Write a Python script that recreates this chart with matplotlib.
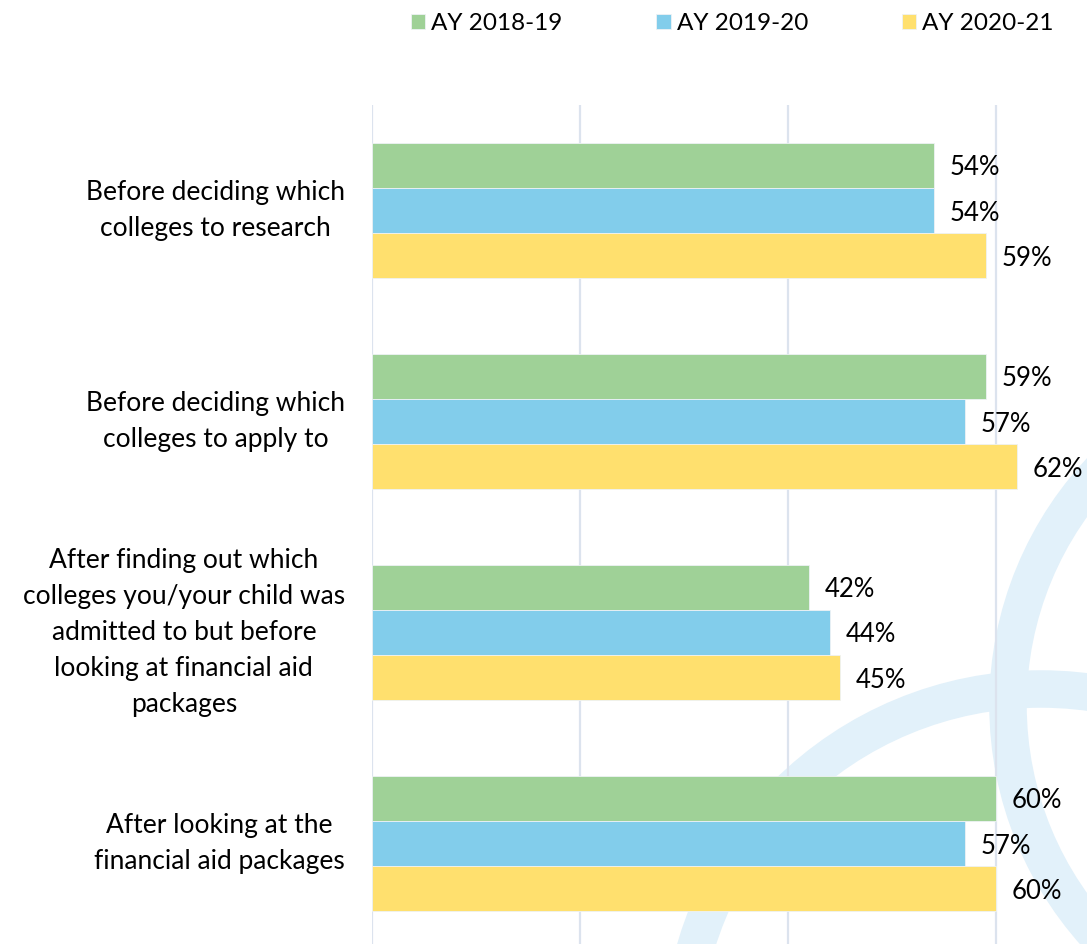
import matplotlib
matplotlib.use("Agg")
import matplotlib.pyplot as plt
from matplotlib.patches import Circle
import numpy as np

plt.rcParams['font.family'] = ['Lato', 'DejaVu Sans']

categories = [
    "Before deciding which\ncolleges to research",
    "Before deciding which\ncolleges to apply to",
    "After finding out which\ncolleges you/your child was\nadmitted to but before\nlooking at financial aid\npackages",
    "After looking at the\nfinancial aid packages",
]
series_names = ["AY 2018-19", "AY 2019-20", "AY 2020-21"]
ay_2018_19 = [54, 59, 42, 60]
ay_2019_20 = [54, 57, 44, 57]
ay_2020_21 = [59, 62, 45, 60]
colors = ["#9FD197", "#82CDEB", "#FFE06E"]

W, H = 1087, 944
fig = plt.figure(figsize=(W / 100, H / 100), dpi=100)

# watermark (decorative background arcs)
bg = fig.add_axes([0, 0, 1, 1], zorder=0)
bg.set_xlim(0, W)
bg.set_ylim(H, 0)
bg.axis('off')
wm = "#E2F1FA"
bg.add_patch(Circle((1041, 1049), 360, fill=False, lw=27, edgecolor=wm))
bg.add_patch(Circle((1350, 705), 342, fill=False, lw=27, edgecolor=wm))

ax = fig.add_axes([372 / W, -5 / H, (W - 372) / W, 844 / H], zorder=1)
ax.patch.set_alpha(0)

h = 0.2133
y = np.arange(len(categories))
data = [ay_2018_19, ay_2019_20, ay_2020_21]
containers = []
for k, (vals, c, name) in enumerate(zip(data, colors, series_names)):
    bc = ax.barh(y + (k - 1) * h, vals, height=h, color=c, label=name,
                 edgecolor="#EEF2F4", linewidth=0.6, zorder=3)
    containers.append(bc)
    texts = ax.bar_label(bc, labels=[f"{v}%" for v in vals], padding=11.5,
                         fontsize=18.5, color="black")
    for t in texts:
        t.set_va('center_baseline')

ax.set_xlim(0, 68.75)
ax.set_ylim(3.5, -0.5)
ax.set_xticks([0, 20, 40, 60])
ax.set_xticklabels([])
ax.tick_params(axis='x', length=0)
ax.grid(axis='x', color="#DCE3EE", linewidth=1.6, zorder=0)
ax.set_axisbelow(True)
for s in ax.spines.values():
    s.set_visible(False)

ax.set_yticks(y)
ax.set_yticklabels(categories, fontsize=19, ha='right', ma='center',
                   va='center', linespacing=1.56)
ax.tick_params(axis='y', length=0, pad=19.5)

leg = fig.legend(handles=containers, labels=series_names, loc='upper left',
                 bbox_to_anchor=(411 / W, 1 - 13 / H), ncol=3, frameon=False,
                 fontsize=17.5, handlelength=0.58, handleheight=0.58,
                 handletextpad=0.25, columnspacing=3.87, borderpad=0,
                 borderaxespad=0)

fig.savefig("out.png", dpi=100)
